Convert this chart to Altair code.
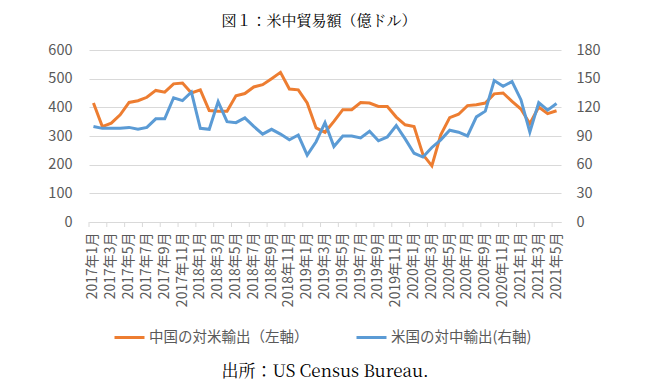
import altair as alt
import pandas as pd

# ---- data ----
months = [f"{y}年{m}月" for y in range(2017, 2022) for m in range(1, 13)][:53]
tick_months = months[::2]

# 中国の対米輸出（左軸, 億ドル）
china_to_us = [415, 333, 345, 374, 417, 423, 435, 459, 453, 482, 485,
               450, 461, 389, 386, 386, 440, 448, 471, 479, 500,
               522, 464, 461, 415, 328, 313, 351, 392, 392, 417,
               415, 403, 403, 366, 339, 333, 235, 196, 304, 364,
               376, 406, 409, 415, 447, 450, 421, 394, 343, 401, 378, 388]

# 米国の対中輸出（右軸, 億ドル）
us_to_china = [100, 98, 98, 98, 99, 97, 99, 108, 108, 130, 127,
               136, 98, 97, 126, 105, 104, 109, 100, 92, 97,
               92, 86, 91, 70, 84, 104, 79, 90, 90, 88,
               95, 85, 89, 101, 87, 72, 68, 78, 86, 96,
               94, 90, 110, 116, 148, 142, 147, 128, 94, 125, 117, 124]

left_ticks = [0, 100, 200, 300, 400, 500, 600]
right_ticks = [0, 30, 60, 90, 120, 150, 180]

S1 = "中国の対米輸出（左軸）"
S2 = "米国の対中輸出(右軸)"
TITLE = "図１：米中貿易額（億ドル）"
SOURCE = "出所：US Census Bureau."

# ---- style ----
W, H = 472, 172
ORANGE = "#ED7D31"
BLUE = "#5B9BD5"
GRID = "#d9d9d9"
LABEL = "#595959"
SANS = "Noto Sans CJK JP"
SERIF = "Noto Serif CJK JP, Liberation Serif, Noto Sans CJK JP"

df1 = pd.DataFrame({"month": months, "value": china_to_us, "series": S1})
df2 = pd.DataFrame({"month": months, "value": us_to_china, "series": S2})
dticks = pd.DataFrame({"month": tick_months})
one = pd.DataFrame({"k": [0]})

xscale = alt.Scale(type="band", domain=months, paddingInner=0, paddingOuter=0)
x_axis = alt.Axis(values=tick_months, labelAngle=-90, ticks=False,
                  domainColor=GRID, domainWidth=1, labelColor=LABEL,
                  labelFontSize=14, labelFont=SANS, labelPadding=10,
                  grid=False, title=None, labelOverlap=False)

color = alt.Color("series:N",
                  scale=alt.Scale(domain=[S1, S2], range=[ORANGE, BLUE]),
                  legend=alt.Legend(title=None, orient="none", legendX=24, legendY=271,
                                    direction="horizontal", symbolType="stroke",
                                    symbolSize=900, symbolStrokeWidth=3,
                                    labelFontSize=14.5, labelColor=LABEL, labelFont=SANS,
                                    columnPadding=41, labelOffset=3, padding=0,
                                    labelLimit=300))

line1 = alt.Chart(df1).mark_line(strokeWidth=3).encode(
    x=alt.X("month:N", scale=xscale, axis=x_axis, bandPosition=0.5),
    y=alt.Y("value:Q", scale=alt.Scale(domain=[0, 600], nice=False),
            axis=alt.Axis(values=left_ticks, orient="left", grid=True, gridColor=GRID,
                          gridWidth=1, domain=False, ticks=False, labelColor=LABEL,
                          labelFontSize=14.5, labelFont=SANS, labelPadding=17, title=None)),
    color=color,
)

line2 = alt.Chart(df2).mark_line(strokeWidth=3).encode(
    x=alt.X("month:N", scale=xscale, axis=x_axis, bandPosition=0.5),
    y=alt.Y("value:Q", scale=alt.Scale(domain=[0, 180], nice=False),
            axis=alt.Axis(values=right_ticks, orient="right", grid=False,
                          domain=False, ticks=False, labelColor=LABEL,
                          labelFontSize=14.5, labelFont=SANS, labelPadding=15, title=None)),
    color=color,
)

xticks = alt.Chart(dticks).mark_rule(color=GRID, strokeWidth=1).encode(
    x=alt.X("month:N", scale=xscale, axis=x_axis, bandPosition=0),
    y=alt.value(H),
    y2=alt.value(H + 5),
)

title = alt.Chart(one).mark_text(text=TITLE, font=SERIF, fontSize=15, color="#000000",
                                 align="center", baseline="alphabetic").encode(
    x=alt.value(230), y=alt.value(-24))

source = alt.Chart(one).mark_text(text=SOURCE, font=SERIF, fontSize=17, color="#000000",
                                  align="center", baseline="alphabetic").encode(
    x=alt.value(236), y=alt.value(327))

chart = alt.layer(xticks, line1, line2, title, source).resolve_scale(
    y="independent"
).properties(
    width=W, height=H,
    padding={"left": 81, "top": 42, "right": 87, "bottom": 161},
    autosize=alt.AutoSizeParams(type="none"),
).configure_view(stroke=None)

chart.save("out.html", embed_options={"renderer": "svg", "actions": False})
